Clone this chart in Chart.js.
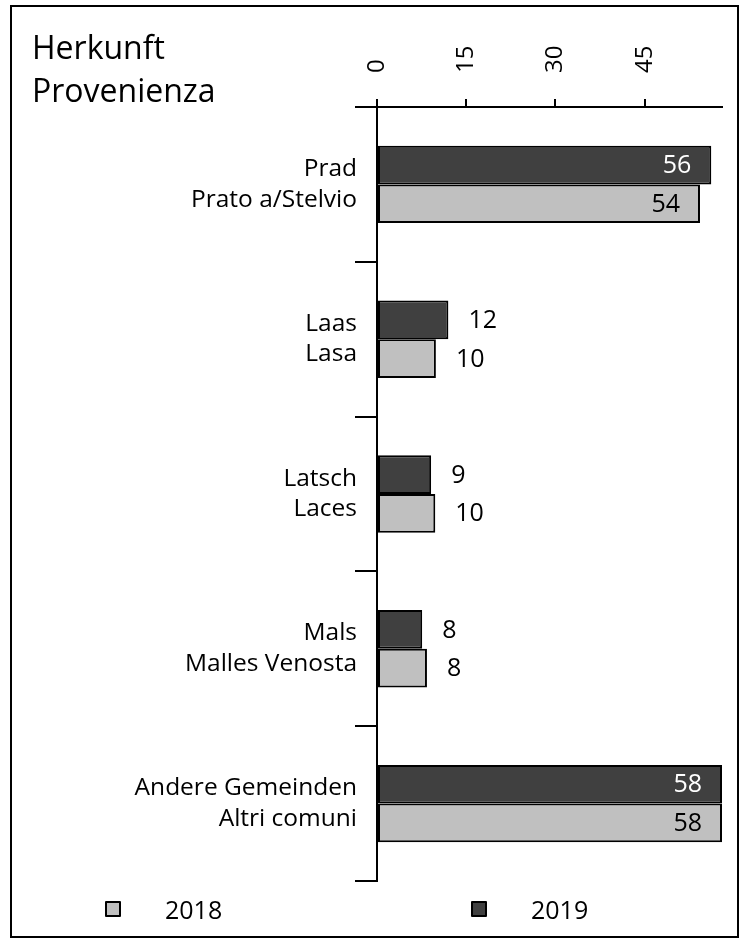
<!DOCTYPE html>
<html lang="de">
<head>
<meta charset="UTF-8">
<title>Herkunft / Provenienza</title>
<script src="https://cdn.jsdelivr.net/npm/chart.js"></script>
<style>
    body {
        margin: 0;
        background: #fff;
        font-family: "Open Sans", sans-serif;
    }
    .wrap {
        position: absolute;
        left: 0;
        top: 0;
        width: 740px;
        height: 942px;
    }
    .frame {
        position: absolute;
        left: 10px;
        top: 5px;
        width: 725px;
        height: 929px;
        border: 2px solid #000;
        pointer-events: none;
    }
    .title {
        position: absolute;
        left: 32px;
        top: 25px;
        font-size: 32px;
        line-height: 43px;
        color: #000;
    }
    .legend-item {
        position: absolute;
        top: 892px;
        height: 34px;
        display: flex;
        align-items: center;
        font-size: 25px;
        color: #000;
    }
    .legend-item span.box {
        display: inline-block;
        width: 12px;
        height: 12px;
        border: 2px solid #000;
        border-radius: 1px;
        margin-right: 44px;
    }
</style>
</head>
<body>
<div class="wrap">
    <canvas id="chart"></canvas>
</div>
<div class="title">Herkunft<br>Provenienza</div>
<div id="legend"></div>
<div class="frame"></div>

<script>
    // data
    const categories = [
        ["Prad", "Prato a/Stelvio"],
        ["Laas", "Lasa"],
        ["Latsch", "Laces"],
        ["Mals", "Malles Venosta"],
        ["Andere Gemeinden", "Altri comuni"]
    ];
    const values2019 = [56.2, 12.0, 9.1, 7.6, 58];
    const values2018 = [54.3, 9.9, 9.8, 8.4, 58];
    const xTicks = [0, 15, 30, 45];
    const seriesNames = ["2018", "2019"];

    const DARK = "#404040";
    const LIGHT = "#c0c0c0";

    // legend (2018 left, 2019 right)
    const legendPos = [105, 471];
    const legendColors = [LIGHT, DARK];
    const legend = document.getElementById("legend");
    seriesNames.forEach((name, i) => {
        const item = document.createElement("div");
        item.className = "legend-item";
        item.style.left = legendPos[i] + "px";
        item.innerHTML = '<span class="box" style="background:' + legendColors[i] + '"></span>' + name;
        legend.appendChild(item);
    });

    // value labels, inside for long bars, outside for short ones
    const valueLabels = {
        id: "valueLabels",
        afterDatasetsDraw(chart) {
            const ctx = chart.ctx;
            ctx.save();
            ctx.font = "25px 'Open Sans'";
            ctx.textBaseline = "middle";
            chart.data.datasets.forEach((ds, di) => {
                const meta = chart.getDatasetMeta(di);
                meta.data.forEach((bar, i) => {
                    const v = ds.data[i];
                    const txt = String(Math.round(v));
                    if (v > 30) {
                        ctx.textAlign = "right";
                        ctx.fillStyle = ds.backgroundColor === DARK ? "#fff" : "#000";
                        ctx.fillText(txt, bar.x - 20, bar.y + 1);
                    } else {
                        ctx.textAlign = "left";
                        ctx.fillStyle = "#000";
                        ctx.fillText(txt, bar.x + 20, bar.y + 1);
                    }
                });
            });
            ctx.restore();
        }
    };

    const ctx = document.getElementById("chart").getContext("2d");
    new Chart(ctx, {
        type: "bar",
        data: {
            labels: categories,
            datasets: [
                {
                    label: "2019",
                    data: values2019,
                    backgroundColor: DARK,
                    borderColor: "#000",
                    borderWidth: 2,
                    borderSkipped: false
                },
                {
                    label: "2018",
                    data: values2018,
                    backgroundColor: LIGHT,
                    borderColor: "#000",
                    borderWidth: 2,
                    borderSkipped: false
                }
            ]
        },
        options: {
            indexAxis: "y",
            responsive: true,
            maintainAspectRatio: false,
            animation: false,
            categoryPercentage: 0.5,
            barPercentage: 1,
            layout: {
                padding: { left: 0, top: 0, right: 18, bottom: 61 }
            },
            scales: {
                x: {
                    position: "top",
                    min: 0,
                    max: 58,
                    afterBuildTicks: (scale) => {
                        scale.ticks = xTicks.map(v => ({ value: v }));
                    },
                    afterFit: (scale) => { scale.height = 107; },
                    ticks: {
                        minRotation: 90,
                        maxRotation: 90,
                        padding: 26,
                        labelOffset: 29,
                        color: "#000",
                        font: { family: "Open Sans", size: 24 }
                    },
                    grid: {
                        drawOnChartArea: false,
                        drawTicks: true,
                        tickLength: 8,
                        color: "#000",
                        lineWidth: 2
                    },
                    border: { display: true, color: "#000", width: 2 }
                },
                y: {
                    afterFit: (scale) => { scale.width = 377; },
                    ticks: {
                        padding: -2,
                        color: "#000",
                        font: { family: "Open Sans", size: 24.5, lineHeight: 1.25 }
                    },
                    grid: {
                        offset: true,
                        drawOnChartArea: false,
                        drawTicks: true,
                        tickLength: 22,
                        color: "#000",
                        lineWidth: 2
                    },
                    border: { display: true, color: "#000", width: 2 }
                }
            },
            plugins: {
                legend: { display: false },
                tooltip: { enabled: false }
            }
        },
        plugins: [valueLabels]
    });
</script>
</body>
</html>
